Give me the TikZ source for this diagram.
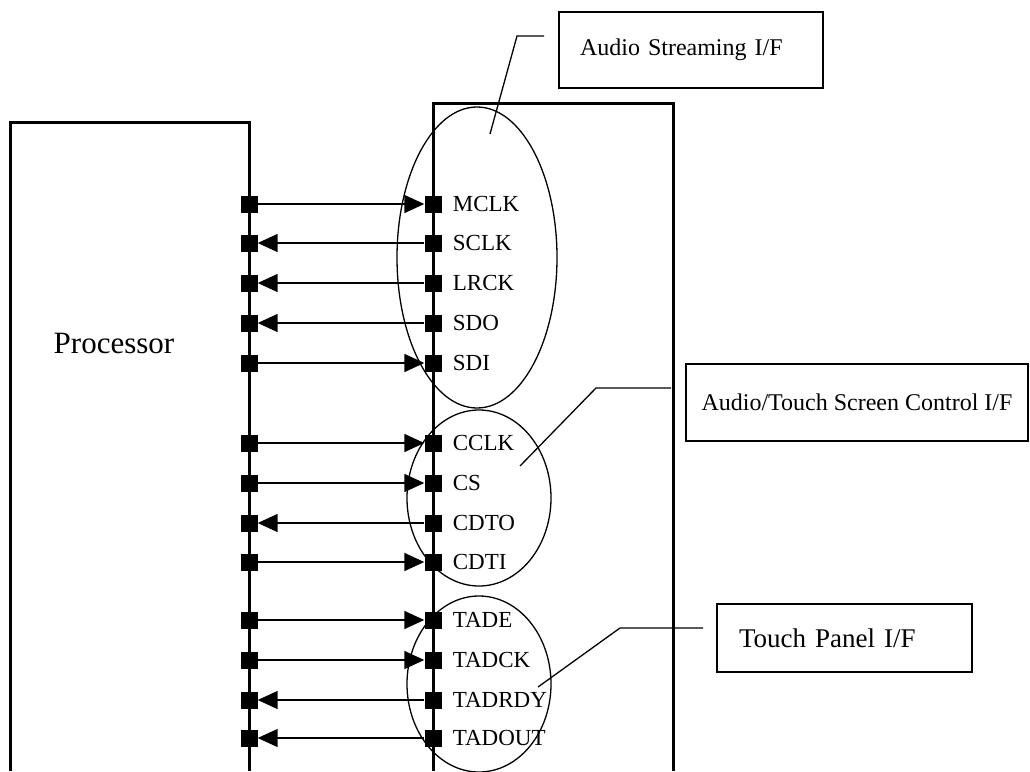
\documentclass[tikz,border=0pt]{standalone}
\usepackage{fontspec}
\setmainfont{Liberation Serif}
\usepackage{tikz}
\usetikzlibrary{shapes.geometric, arrows.meta, positioning}

\begin{document}
\begin{tikzpicture}[x=1pt, y=-1pt,
  pad/.style={rectangle, fill=black, minimum size=17pt, inner sep=0pt},
  sig/.style={inner sep=0pt, font=\fontsize{23}{26}\selectfont},
  grp/.style={ellipse, draw, line width=1.3pt, inner sep=0pt},
  note/.style={rectangle, draw, line width=1.5pt, align=left, inner ysep=0pt},
  chip/.style={line width=3pt},
  flow/.style={line width=1.5pt},
  lead/.style={line width=1.3pt},
  >={Triangle[length=20pt, width=18pt]}]
\useasboundingbox (0,0) rectangle (1030,771);
% the two chips, open at the bottom
\draw[chip] (10,771) -- (10,122) -- (249,122) -- (249,771);
\draw[chip] (433,771) -- (433,103) -- (673,103) -- (673,771);
\node[font=\fontsize{31}{36}\selectfont] (proc) at (114,343) {Processor};
% pads
\node[pad] (p1) at (249,204) {};  \node[pad] (c1) at (433,204) {};
\node[pad] (p2) at (249,243) {};  \node[pad] (c2) at (433,243) {};
\node[pad] (p3) at (249,283) {};  \node[pad] (c3) at (433,283) {};
\node[pad] (p4) at (249,323) {};  \node[pad] (c4) at (433,323) {};
\node[pad] (p5) at (249,363) {};  \node[pad] (c5) at (433,363) {};
\node[pad] (p6) at (249,443) {};  \node[pad] (c6) at (433,443) {};
\node[pad] (p7) at (249,483) {};  \node[pad] (c7) at (433,483) {};
\node[pad] (p8) at (249,523) {};  \node[pad] (c8) at (433,523) {};
\node[pad] (p9) at (249,562) {};  \node[pad] (c9) at (433,562) {};
\node[pad] (p10) at (249,620) {}; \node[pad] (c10) at (433,620) {};
\node[pad] (p11) at (249,660) {}; \node[pad] (c11) at (433,660) {};
\node[pad] (p12) at (249,700) {}; \node[pad] (c12) at (433,700) {};
\node[pad] (p13) at (249,738) {}; \node[pad] (c13) at (433,738) {};
% signal names
\node[sig, right=11pt of c1] (t1) {MCLK};
\node[sig, right=11pt of c2] (t2) {SCLK};
\node[sig, right=11pt of c3] (t3) {LRCK};
\node[sig, right=11pt of c4] (t4) {SDO};
\node[sig, right=11pt of c5] (t5) {SDI};
\node[sig, right=11pt of c6] (t6) {CCLK};
\node[sig, right=11pt of c7] (t7) {CS};
\node[sig, right=11pt of c8] (t8) {CDTO};
\node[sig, right=11pt of c9] (t9) {CDTI};
\node[sig, right=11pt of c10] (t10) {TADE};
\node[sig, right=11pt of c11] (t11) {TADCK};
\node[sig, right=11pt of c12] (t12) {TADRDY};
\node[sig, right=11pt of c13] (t13) {TADOUT};
\draw[flow,->](p1)--(c1); \draw[flow,->](c2)--(p2); \draw[flow,->](c3)--(p3); \draw[flow,->](c4)--(p4); \draw[flow,->](p5)--(c5);
\draw[flow,->](p6)--(c6); \draw[flow,->](p7)--(c7); \draw[flow,->](c8)--(p8); \draw[flow,->](p9)--(c9);
\draw[flow,->](p10)--(c10); \draw[flow,->](p11)--(c11); \draw[flow,->](c12)--(p12); \draw[flow,->](c13)--(p13);
% interface groups
\node[grp, minimum width=160pt, minimum height=301pt] (asg) at (477,257.5) {};
\node[grp, minimum width=144pt, minimum height=176pt] (ctg) at (479,498) {};
\node[grp, minimum width=144pt, minimum height=176pt] (tpg) at (479,684) {};
\node[note, text width=222pt, inner xsep=21pt, minimum height=76pt, font=\fontsize{24}{28}\selectfont] (asif) at (691,50) {Audio Streaming I/F};
\node[note, minimum width=342pt, minimum height=77pt, font=\fontsize{24}{28}\selectfont] (ctif) at (857,402.5) {Audio/Touch Screen Control I/F};
\node[note, text width=211pt, inner xsep=22pt, minimum height=68pt, font=\fontsize{27}{31}\selectfont] (tpif) at (844.5,638) {Touch Panel I/F};
% leaders
\coordinate (k1) at (544,36);  \coordinate (k1m) at (517,36);  \coordinate (k1e) at (490,134);
\coordinate (k2) at (671,388); \coordinate (k2m) at (596,388); \coordinate (k2e) at (520,466);
\coordinate (k3) at (703,628); \coordinate (k3m) at (620,628); \coordinate (k3e) at (538,687);
\draw[lead] (k1)--(k1m)--(k1e);
\draw[lead] (k2)--(k2m)--(k2e);
\draw[lead] (k3)--(k3m)--(k3e);
\end{tikzpicture}
\end{document}
